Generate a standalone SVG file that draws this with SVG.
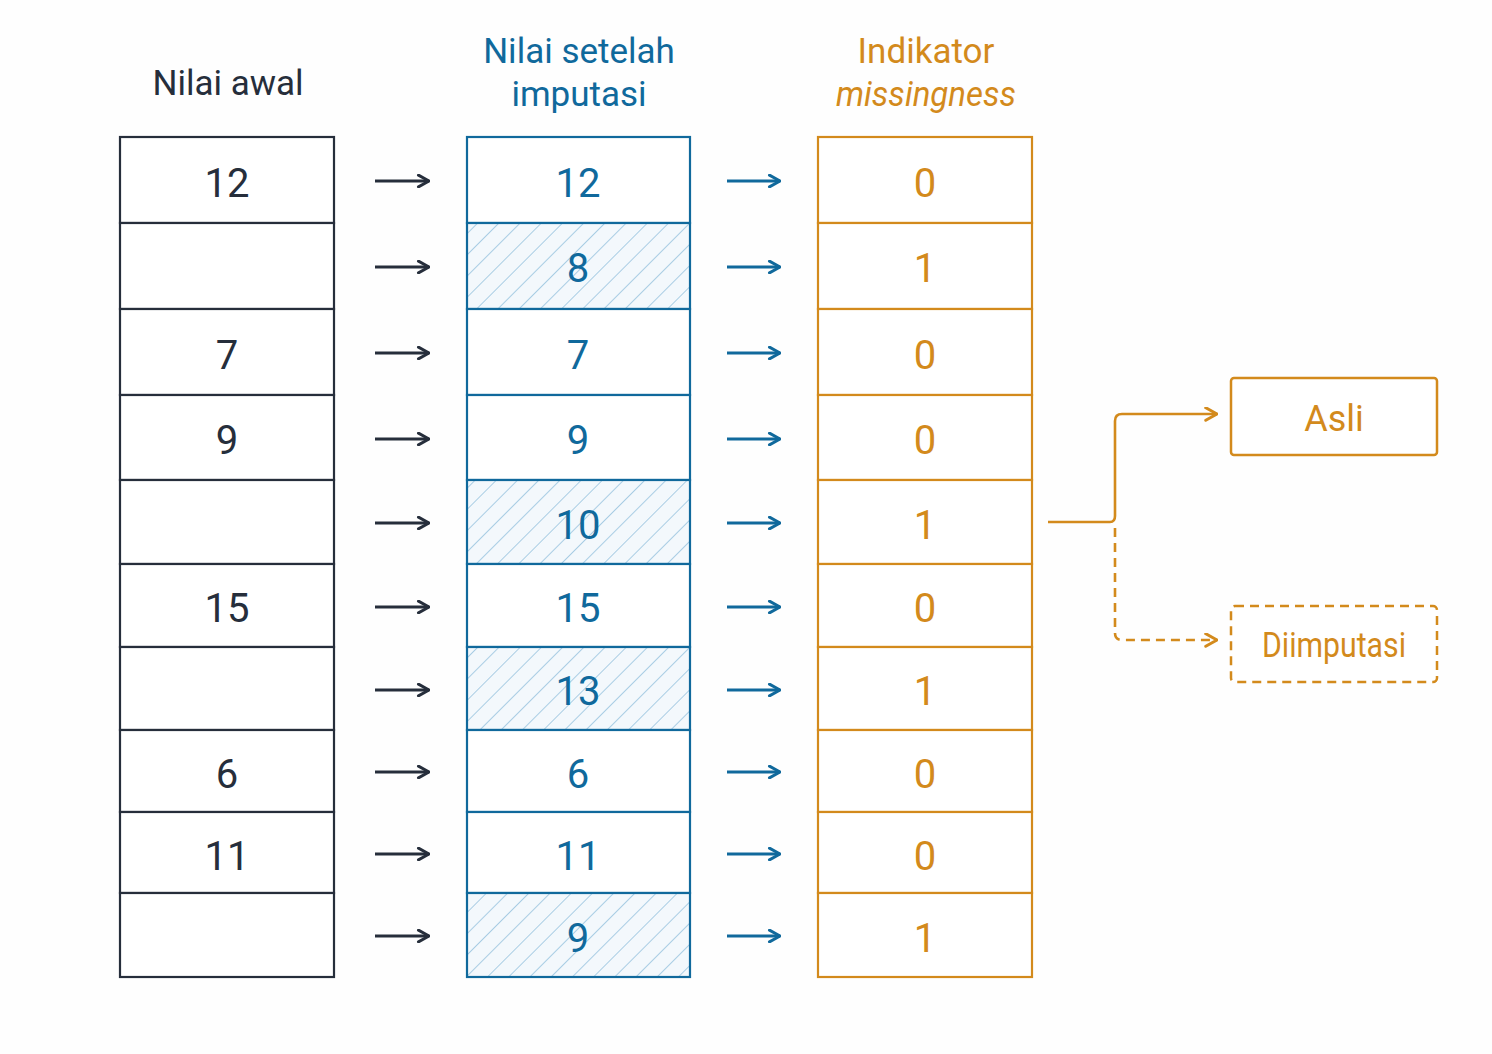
<svg xmlns="http://www.w3.org/2000/svg" width="1492" height="1054" viewBox="0 0 1492 1054">
<style>
.t{font-family:Roboto,"Liberation Sans",sans-serif;text-anchor:middle}
.h{font-size:35px}
.n{font-size:40px}
.dk{fill:#262e3b}.bl{fill:#10699c}.or{fill:#d38a1c}
.cd{fill:#fff;stroke:#262e3b;stroke-width:2.2}
.cb{fill:#fff;stroke:#10699c;stroke-width:2.2}
.ch{fill:url(#hatch);stroke:#10699c;stroke-width:2.2}
.co{fill:#fff;stroke:#d38a1c;stroke-width:2.2}
.ad{stroke:#262e3b;stroke-width:3.2;fill:none}
.ab{stroke:#10699c;stroke-width:3.2;fill:none}
.ao{stroke:#d38a1c;stroke-width:2.6;fill:none}
</style>
<defs>
<pattern id="hatch" patternUnits="userSpaceOnUse" width="15" height="15" patternTransform="rotate(45)">
<rect width="15" height="15" fill="#f3f8fc"/>
<line x1="0" y1="0" x2="0" y2="15" stroke="#a9cde4" stroke-width="2"/>
</pattern>
<marker id="md" viewBox="0 0 12 12" refX="11" refY="6" markerWidth="14" markerHeight="14" markerUnits="userSpaceOnUse" orient="auto"><path d="M2,1 L11,6 L2,11" fill="none" stroke="#262e3b" stroke-width="2.6" stroke-linecap="round" stroke-linejoin="round"/></marker>
<marker id="mb" viewBox="0 0 12 12" refX="11" refY="6" markerWidth="14" markerHeight="14" markerUnits="userSpaceOnUse" orient="auto"><path d="M2,1 L11,6 L2,11" fill="none" stroke="#10699c" stroke-width="2.6" stroke-linecap="round" stroke-linejoin="round"/></marker>
<marker id="mo" viewBox="0 0 12 12" refX="11" refY="6" markerWidth="15" markerHeight="15" markerUnits="userSpaceOnUse" orient="auto"><path d="M2,1 L11,6 L2,11" fill="none" stroke="#d38a1c" stroke-width="2.4" stroke-linecap="round" stroke-linejoin="round"/></marker>
</defs>
<rect width="1492" height="1054" fill="#fefefe"/>

<g id="headers">
<text class="t h dk" x="228" y="95">Nilai awal</text>
<text class="t h bl" x="579" y="63">Nilai setelah</text>
<text class="t h bl" x="579" y="106">imputasi</text>
<text class="t h or" x="926" y="63">Indikator</text>
<text class="t h or" x="926" y="106" font-style="italic" textLength="180" lengthAdjust="spacingAndGlyphs">missingness</text>
</g>

<g id="col-awal">
<rect class="cd" x="120" y="137" width="214" height="86"/>
<rect class="cd" x="120" y="223" width="214" height="86"/>
<rect class="cd" x="120" y="309" width="214" height="86"/>
<rect class="cd" x="120" y="395" width="214" height="85"/>
<rect class="cd" x="120" y="480" width="214" height="84"/>
<rect class="cd" x="120" y="564" width="214" height="83"/>
<rect class="cd" x="120" y="647" width="214" height="83"/>
<rect class="cd" x="120" y="730" width="214" height="82"/>
<rect class="cd" x="120" y="812" width="214" height="81"/>
<rect class="cd" x="120" y="893" width="214" height="84"/>
<text class="t n dk" x="227" y="197">12</text>
<text class="t n dk" x="227" y="369">7</text>
<text class="t n dk" x="227" y="454">9</text>
<text class="t n dk" x="227" y="622">15</text>
<text class="t n dk" x="227" y="788">6</text>
<text class="t n dk" x="227" y="870">11</text>
</g>

<g id="col-imputasi">
<rect class="cb" x="467" y="137" width="223" height="86"/>
<rect class="ch" x="467" y="223" width="223" height="86"/>
<rect class="cb" x="467" y="309" width="223" height="86"/>
<rect class="cb" x="467" y="395" width="223" height="85"/>
<rect class="ch" x="467" y="480" width="223" height="84"/>
<rect class="cb" x="467" y="564" width="223" height="83"/>
<rect class="ch" x="467" y="647" width="223" height="83"/>
<rect class="cb" x="467" y="730" width="223" height="82"/>
<rect class="cb" x="467" y="812" width="223" height="81"/>
<rect class="ch" x="467" y="893" width="223" height="84"/>
<text class="t n bl" x="578" y="197">12</text>
<text class="t n bl" x="578" y="282">8</text>
<text class="t n bl" x="578" y="369">7</text>
<text class="t n bl" x="578" y="454">9</text>
<text class="t n bl" x="578" y="539">10</text>
<text class="t n bl" x="578" y="622">15</text>
<text class="t n bl" x="578" y="705">13</text>
<text class="t n bl" x="578" y="788">6</text>
<text class="t n bl" x="578" y="870">11</text>
<text class="t n bl" x="578" y="952">9</text>
</g>

<g id="col-indikator">
<rect class="co" x="818" y="137" width="214" height="86"/>
<rect class="co" x="818" y="223" width="214" height="86"/>
<rect class="co" x="818" y="309" width="214" height="86"/>
<rect class="co" x="818" y="395" width="214" height="85"/>
<rect class="co" x="818" y="480" width="214" height="84"/>
<rect class="co" x="818" y="564" width="214" height="83"/>
<rect class="co" x="818" y="647" width="214" height="83"/>
<rect class="co" x="818" y="730" width="214" height="82"/>
<rect class="co" x="818" y="812" width="214" height="81"/>
<rect class="co" x="818" y="893" width="214" height="84"/>
<text class="t n or" x="925" y="197">0</text>
<text class="t n or" x="925" y="282">1</text>
<text class="t n or" x="925" y="369">0</text>
<text class="t n or" x="925" y="454">0</text>
<text class="t n or" x="925" y="539">1</text>
<text class="t n or" x="925" y="622">0</text>
<text class="t n or" x="925" y="705">1</text>
<text class="t n or" x="925" y="788">0</text>
<text class="t n or" x="925" y="870">0</text>
<text class="t n or" x="925" y="952">1</text>
</g>

<g id="node-asli">
<rect x="1231" y="378" width="206" height="77" rx="3" fill="#fff" stroke="#d38a1c" stroke-width="2.5"/>
<text class="t or" x="1334" y="431" font-size="36">Asli</text>
</g>
<g id="node-diimputasi">
<rect x="1231" y="606" width="206" height="76" rx="4" fill="#fff" stroke="#d38a1c" stroke-width="2.5" stroke-dasharray="9 6"/>
<text class="t or" x="1334" y="657" font-size="35" textLength="144" lengthAdjust="spacingAndGlyphs">Diimputasi</text>
</g>

<g id="connectors">
<line class="ad" x1="375" y1="181" x2="429" y2="181" marker-end="url(#md)"/>
<line class="ad" x1="375" y1="267" x2="429" y2="267" marker-end="url(#md)"/>
<line class="ad" x1="375" y1="353" x2="429" y2="353" marker-end="url(#md)"/>
<line class="ad" x1="375" y1="439" x2="429" y2="439" marker-end="url(#md)"/>
<line class="ad" x1="375" y1="523" x2="429" y2="523" marker-end="url(#md)"/>
<line class="ad" x1="375" y1="607" x2="429" y2="607" marker-end="url(#md)"/>
<line class="ad" x1="375" y1="690" x2="429" y2="690" marker-end="url(#md)"/>
<line class="ad" x1="375" y1="772" x2="429" y2="772" marker-end="url(#md)"/>
<line class="ad" x1="375" y1="854" x2="429" y2="854" marker-end="url(#md)"/>
<line class="ad" x1="375" y1="936" x2="429" y2="936" marker-end="url(#md)"/>
<line class="ab" x1="727" y1="181" x2="780" y2="181" marker-end="url(#mb)"/>
<line class="ab" x1="727" y1="267" x2="780" y2="267" marker-end="url(#mb)"/>
<line class="ab" x1="727" y1="353" x2="780" y2="353" marker-end="url(#mb)"/>
<line class="ab" x1="727" y1="439" x2="780" y2="439" marker-end="url(#mb)"/>
<line class="ab" x1="727" y1="523" x2="780" y2="523" marker-end="url(#mb)"/>
<line class="ab" x1="727" y1="607" x2="780" y2="607" marker-end="url(#mb)"/>
<line class="ab" x1="727" y1="690" x2="780" y2="690" marker-end="url(#mb)"/>
<line class="ab" x1="727" y1="772" x2="780" y2="772" marker-end="url(#mb)"/>
<line class="ab" x1="727" y1="854" x2="780" y2="854" marker-end="url(#mb)"/>
<line class="ab" x1="727" y1="936" x2="780" y2="936" marker-end="url(#mb)"/>
<path class="ao" d="M1048,522 L1110,522 Q1115,522 1115,516 L1115,421 Q1115,414 1122,414 L1217,414" marker-end="url(#mo)"/>
<path class="ao" d="M1115,528 L1115,633 Q1115,640 1122,640 L1217,640" stroke-dasharray="9 6" marker-end="url(#mo)"/>
</g>
</svg>
